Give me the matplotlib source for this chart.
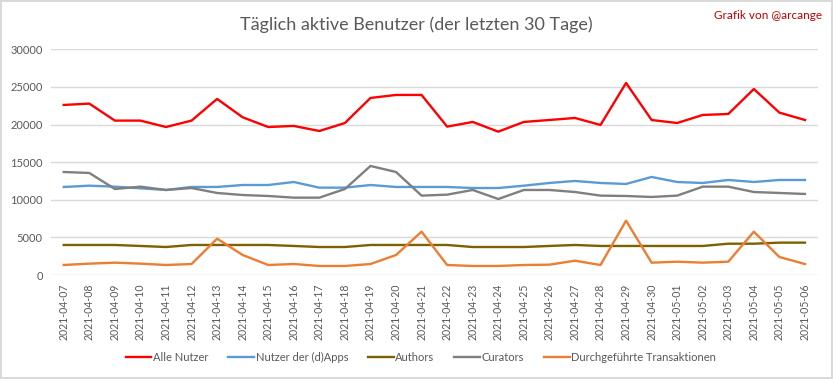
import matplotlib
matplotlib.use('Agg')
import matplotlib.pyplot as plt

plt.rcParams['font.family'] = ['Lato', 'DejaVu Sans']

dates = ['2021-04-07', '2021-04-08', '2021-04-09', '2021-04-10', '2021-04-11',
         '2021-04-12', '2021-04-13', '2021-04-14', '2021-04-15', '2021-04-16',
         '2021-04-17', '2021-04-18', '2021-04-19', '2021-04-20', '2021-04-21',
         '2021-04-22', '2021-04-23', '2021-04-24', '2021-04-25', '2021-04-26',
         '2021-04-27', '2021-04-28', '2021-04-29', '2021-04-30', '2021-05-01',
         '2021-05-02', '2021-05-03', '2021-05-04', '2021-05-05', '2021-05-06']

alle_nutzer = [22600, 22780, 20520, 20520, 19670, 20520, 23400, 20960, 19670, 19810,
               19140, 20200, 23530, 23930, 23930, 19720, 20340, 19050, 20340, 20600,
               20870, 19940, 25520, 20600, 20200, 21270, 21400, 24720, 21580, 20600]
dapps = [11700, 11870, 11740, 11520, 11300, 11700, 11700, 11960, 11960, 12360,
         11610, 11610, 11960, 11700, 11700, 11700, 11560, 11560, 11870, 12230,
         12500, 12230, 12100, 13030, 12360, 12230, 12630, 12360, 12630, 12630]
authors = [3990, 3990, 3990, 3860, 3720, 3990, 3990, 3990, 3990, 3860,
           3720, 3720, 3990, 3990, 3990, 3990, 3720, 3720, 3720, 3860,
           3990, 3860, 3860, 3860, 3860, 3860, 4160, 4160, 4300, 4300]
curators = [13690, 13560, 11430, 11740, 11300, 11560, 10900, 10630, 10500, 10280,
            10280, 11430, 14490, 13690, 10550, 10680, 11300, 10100, 11300, 11300,
            11030, 10550, 10500, 10370, 10550, 11740, 11740, 11030, 10900, 10770]
transaktionen = [1330, 1510, 1640, 1510, 1330, 1460, 4830, 2660, 1330, 1460,
                 1200, 1200, 1460, 2660, 5760, 1330, 1200, 1200, 1330, 1370,
                 1900, 1330, 7220, 1640, 1770, 1640, 1770, 5760, 2390, 1460]

series = [(alle_nutzer, 'Alle Nutzer', '#FF0000'),
          (dapps, 'Nutzer der (d)Apps', '#5B9BD5'),
          (authors, 'Authors', '#7F6000'),
          (curators, 'Curators', '#7F7F7F'),
          (transaktionen, 'Durchgeführte Transaktionen', '#ED7D31')]

fig = plt.figure(figsize=(8.33, 3.79), dpi=100, edgecolor='#D9D9D9', linewidth=1.5)
ax = fig.add_axes([0.0612, 0.2744, 0.9205, 0.5956])

x = list(range(len(dates)))
for vals, label, color in series:
    ax.plot(x, vals, color=color, linewidth=1.7, label=label)

ax.set_xlim(-0.5, len(dates) - 0.5)
ax.set_ylim(0, 30000)
ax.set_yticks(range(0, 30001, 5000))
ax.set_xticks(x)
ax.set_xticklabels(dates, rotation=90, fontsize=7.6, color='#595959')
ax.tick_params(axis='y', labelsize=8, labelcolor='#595959', length=0, pad=6)
ax.tick_params(axis='x', length=0, pad=6)
ax.grid(axis='y', color='#D9D9D9', linewidth=1)
ax.set_axisbelow(True)
for s in ax.spines.values():
    s.set_visible(False)

fig.text(0.5, 0.936, 'Täglich aktive Benutzer (der letzten 30 Tage)', ha='center', va='center',
         fontsize=13, color='#595959')
fig.text(0.987, 0.958, 'Grafik von @arcange', ha='right', va='center', fontsize=8.5, color='#C00000')

fig.legend(loc='center', bbox_to_anchor=(421 / 833, 1 - 357 / 379), ncol=5, frameon=False,
           fontsize=8, handlelength=2.3, handletextpad=0.15, columnspacing=1.8,
           labelcolor='#595959')

plt.savefig('out.png', dpi=100)
